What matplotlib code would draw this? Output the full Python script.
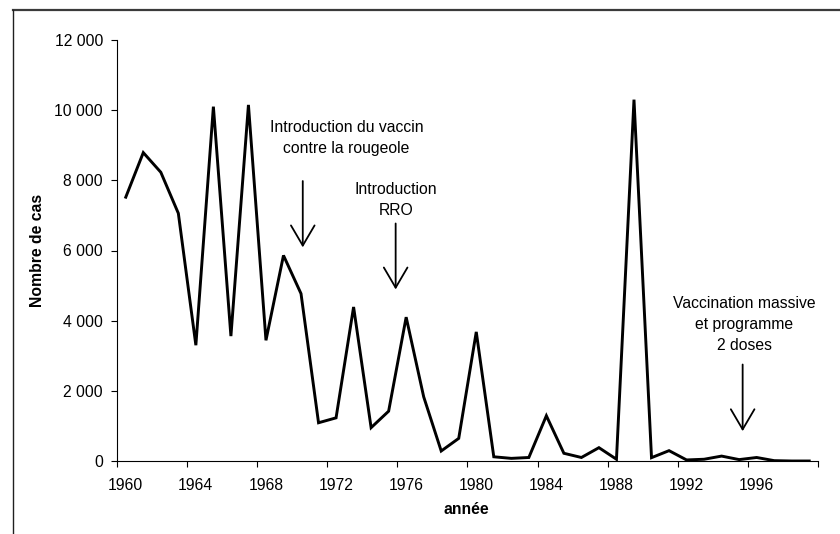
import matplotlib
matplotlib.use("Agg")
import matplotlib.pyplot as plt
from matplotlib.lines import Line2D
from matplotlib.ticker import FixedLocator, FuncFormatter

# ---- data ----
years = list(range(1960, 2000))
cases = [7520, 8790, 8230, 7060, 3300, 10100, 3560, 10150, 3440, 5860,
         4770, 1090, 1230, 4390, 950, 1420, 4100, 1830, 285, 645,
         3680, 120, 75, 100, 1290, 220, 100, 380, 50, 10300,
         95, 295, 30, 50, 140, 40, 100, 10, 0, 0]

x_tick_labels = [1960, 1964, 1968, 1972, 1976, 1980, 1984, 1988, 1992, 1996]
y_ticks = [0, 2000, 4000, 6000, 8000, 10000, 12000]

ann_texts = ["Introduction du vaccin\ncontre la rougeole",
             "Introduction\nRRO",
             "Vaccination massive\net programme\n2 doses"]
ann_text_x = [1972.6, 1975.4, 1995.3]
ann_text_y = [9200, 7440, 3900]
arrow_x = [1970.1, 1975.4, 1995.2]
arrow_top = [7980, 6770, 2750]
arrow_tip = [6090, 4890, 850]

# ---- figure ----
plt.rcParams['font.family'] = ['Liberation Sans', 'DejaVu Sans']
fig = plt.figure(figsize=(8.4, 5.34), dpi=100)
ax = fig.add_axes([117/840, 1-461/534, 701/840, 421/534])

ax.plot(years, cases, color='black', lw=2.1, solid_joinstyle='miter')

ax.set_xlim(years[0] - 0.5, years[-1] + 0.5)
ax.set_ylim(0, 12000)

# category axis: tick marks between groups of 4, labels at category centres
ax.xaxis.set_major_locator(FixedLocator([y - 0.5 for y in years[::4]] + [years[-1] + 0.5]))
ax.xaxis.set_major_formatter(FuncFormatter(lambda v, p: ""))
ax.xaxis.set_minor_locator(FixedLocator(x_tick_labels))
ax.xaxis.set_minor_formatter(FuncFormatter(lambda v, p: f"{int(round(v))}"))
ax.tick_params(axis='x', which='major', direction='out', length=4, width=0.8, color='black')
ax.tick_params(axis='x', which='minor', length=0, pad=12, labelsize=11.3)

ax.yaxis.set_major_locator(FixedLocator(y_ticks))
ax.yaxis.set_major_formatter(FuncFormatter(lambda v, p: f"{int(v):,}".replace(",", " ")))
ax.tick_params(axis='y', direction='out', length=4, width=0.8, pad=6, labelsize=11.3)

for s in ['top', 'right']:
    ax.spines[s].set_visible(False)
for s in ['left', 'bottom']:
    ax.spines[s].set_linewidth(0.8)

fig.text(37/840, 1-250/534, "Nombre de cas", rotation=90, ha='center', va='center',
         fontsize=11.3, fontweight='bold')
fig.text(466/840, 1-510/534, "année", ha='center', va='center',
         fontsize=11.3, fontweight='bold')

# annotations
for t, tx, ty in zip(ann_texts, ann_text_x, ann_text_y):
    ax.text(tx, ty, t, ha='center', va='center', fontsize=11.3, linespacing=1.5)
for xa, y0, y1 in zip(arrow_x, arrow_top, arrow_tip):
    ax.annotate("", xy=(xa, y1), xytext=(xa, y0),
                arrowprops=dict(arrowstyle="->,head_length=1.45,head_width=0.85",
                                mutation_scale=10, lw=1.3, color='black',
                                shrinkA=0, shrinkB=0))

# outer frame (partially visible)
fig.add_artist(Line2D([13/840, 1.0], [1-10/534, 1-10/534], transform=fig.transFigure,
                      color='#3a3a3a', lw=1.6))
fig.add_artist(Line2D([13/840, 13/840], [0.0, 1-10/534], transform=fig.transFigure,
                      color='#202020', lw=1.0))

fig.savefig("out.png", dpi=100)
